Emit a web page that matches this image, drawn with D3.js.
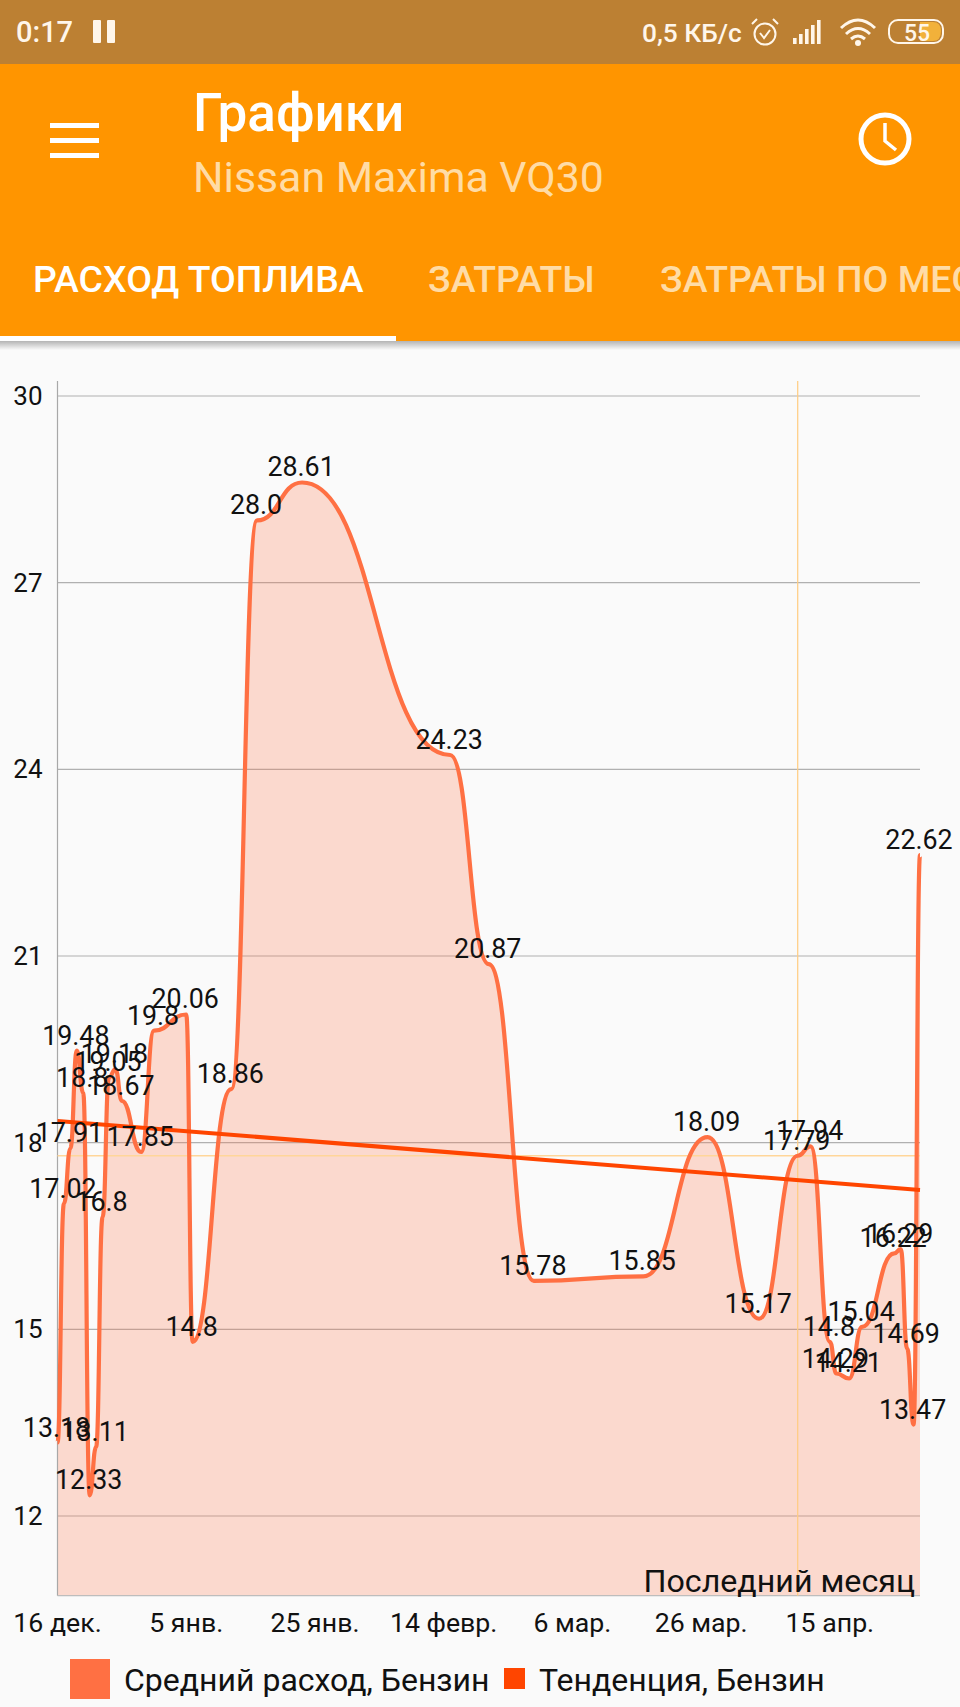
<!DOCTYPE html>
<html><head><meta charset="utf-8">
<script src="https://cdn.jsdelivr.net/npm/d3@7"></script>
<style>html,body{margin:0;padding:0;background:#fafafa}svg{display:block}text{font-family:Roboto,sans-serif}</style>
</head><body><svg id="c" width="960" height="1707"></svg>
<script>
const dates=["2018-12-16","2018-12-17","2018-12-18","2018-12-19","2018-12-20","2018-12-21","2018-12-22","2018-12-23","2018-12-24","2018-12-25","2018-12-26","2018-12-29","2018-12-31","2019-01-05","2019-01-06","2019-01-12","2019-01-16","2019-01-23","2019-02-15","2019-02-21","2019-02-28","2019-03-17","2019-03-27","2019-04-04","2019-04-10","2019-04-12","2019-04-15","2019-04-16","2019-04-18","2019-04-20","2019-04-25","2019-04-26","2019-04-27","2019-04-28","2019-04-29"];
const fuel=[13.18,17.02,17.91,19.48,18.8,12.33,13.11,16.8,19.05,19.18,18.67,17.85,19.8,20.06,14.8,18.86,28.0,28.61,24.23,20.87,15.78,15.85,18.09,15.17,17.79,17.94,14.8,14.29,14.21,15.04,16.22,16.29,14.69,13.47,22.62];
const trendValues=[18.35,17.24];
const yTicks=[12,15,18,21,24,27,30];
const xTickDates=["2018-12-16","2019-01-05","2019-01-25","2019-02-14","2019-03-06","2019-03-26","2019-04-15"];
const xTickLabels=["16 дек.","5 янв.","25 янв.","14 февр.","6 мар.","26 мар.","15 апр."];
const legendLabels=["Средний расход, Бензин","Тенденция, Бензин"];
const selectedIndex=24;
const tabs=["РАСХОД ТОПЛИВА","ЗАТРАТЫ","ЗАТРАТЫ ПО МЕСЯЦАМ"];

const svg=d3.select("#c");
const parse=d3.utcParse("%Y-%m-%d");
const x=d3.scaleUtc().domain([parse(dates[0]),parse(dates[dates.length-1])]).range([57.5,920]);
const y=d3.scaleLinear().domain([12,30]).range([1516,396]);
const bottomY=y(10.72), topY=y(30.24);
const pts=dates.map((d,i)=>({d:parse(d),v:fuel[i]}));
const curve=d3.curveBumpX;

// chart
const g=svg.append("g");
g.append("g").selectAll("line").data(yTicks).join("line")
 .attr("x1",x.range()[0]).attr("x2",x.range()[1]).attr("y1",d=>y(d)).attr("y2",d=>y(d))
 .attr("stroke","#b0b0b0").attr("stroke-width",1.2);
g.append("path").datum(pts).attr("fill","#ff7043").attr("fill-opacity",.24)
 .attr("d",d3.area().x(d=>x(d.d)).y0(bottomY).y1(d=>y(d.v)).curve(curve));
g.append("line").attr("x1",x.range()[0]).attr("x2",x.range()[0]).attr("y1",topY).attr("y2",bottomY).attr("stroke","#a8a8a8").attr("stroke-width",1.2);
g.append("line").attr("x1",x.range()[0]).attr("x2",x.range()[1]).attr("y1",bottomY).attr("y2",bottomY).attr("stroke","#bdbdbd").attr("stroke-width",1.2);
// crosshair
const sel=pts[selectedIndex];
g.append("line").attr("x1",x(sel.d)).attr("x2",x(sel.d)).attr("y1",topY).attr("y2",bottomY).attr("stroke","#ffcc80").attr("stroke-width",1.2);
g.append("line").attr("x1",x.range()[0]).attr("x2",x.range()[1]).attr("y1",y(sel.v)).attr("y2",y(sel.v)).attr("stroke","#ffd699").attr("stroke-width",1.5);
g.append("path").datum(pts).attr("fill","none").attr("stroke","#ff7043").attr("stroke-width",4.2)
 .attr("d",d3.line().x(d=>x(d.d)).y(d=>y(d.v)).curve(curve));
g.append("line").attr("x1",x.range()[0]).attr("x2",x.range()[1])
 .attr("y1",y(trendValues[0])).attr("y2",y(trendValues[1])).attr("stroke","#ff4500").attr("stroke-width",4);
// point labels
g.append("g").selectAll("text").data(pts).join("text")
 .attr("x",d=>x(d.d)-1).attr("y",d=>y(d.v)-6).attr("text-anchor","middle")
 .attr("font-size",26.8).attr("fill","#111").text(d=>String(d.v===28?"28.0":d.v));
// axes labels
g.append("g").selectAll("text").data(yTicks).join("text")
 .attr("x",42.5).attr("y",d=>y(d)+9).attr("text-anchor","end").attr("font-size",26).attr("fill","#111").text(d=>d);
g.append("g").selectAll("text").data(xTickDates).join("text")
 .attr("x",d=>x(parse(d))).attr("y",1632).attr("text-anchor","middle").attr("font-size",26.7).attr("fill","#111")
 .text((d,i)=>xTickLabels[i]);
g.append("text").attr("x",915).attr("y",1592).attr("text-anchor","end").attr("font-size",32.2).attr("fill","#111").text("Последний месяц");
// legend
g.append("rect").attr("x",70).attr("y",1659).attr("width",40).attr("height",40).attr("fill","#ff7043");
g.append("text").attr("x",124).attr("y",1691).attr("font-size",32).attr("fill","#111").text(legendLabels[0]);
g.append("rect").attr("x",504).attr("y",1668).attr("width",21).attr("height",21).attr("fill","#ff4500");
g.append("text").attr("x",539).attr("y",1691).attr("font-size",32).attr("fill","#111").text(legendLabels[1]);

// app chrome
const defs=svg.append("defs");
const gr=defs.append("linearGradient").attr("id","sh").attr("x1",0).attr("x2",0).attr("y1",0).attr("y2",1);
gr.append("stop").attr("offset",0).attr("stop-color","#000").attr("stop-opacity",.28);
gr.append("stop").attr("offset",1).attr("stop-color","#000").attr("stop-opacity",0);
const ch=svg.append("g");
ch.append("rect").attr("x",0).attr("y",341).attr("width",960).attr("height",9).attr("fill","url(#sh)");
ch.append("rect").attr("width",960).attr("height",64).attr("fill","#bc8033");
ch.append("rect").attr("y",64).attr("width",960).attr("height",277).attr("fill","#ff9500");
ch.append("rect").attr("y",336).attr("width",396).attr("height",5).attr("fill","#fff");
[123,138,153].forEach(yy=>ch.append("rect").attr("x",50).attr("y",yy).attr("width",49).attr("height",5).attr("fill","#fff"));
ch.append("text").attr("x",193).attr("y",131).attr("font-size",53).attr("font-weight",500).attr("fill","#fff").text("Графики");
ch.append("text").attr("x",193).attr("y",192).attr("font-size",42.8).attr("fill","#ffdca6").text("Nissan Maxima VQ30");
const tabX=[33,428,660], tabC=["#fff","#ffdca6","#ffdca6"];
tabs.forEach((t,i)=>ch.append("text").attr("x",tabX[i]).attr("y",292).attr("font-size",37.4).attr("font-weight",500).attr("fill",tabC[i]).text(t));
// clock
ch.append("circle").attr("cx",885).attr("cy",139).attr("r",24).attr("fill","none").attr("stroke","#fff").attr("stroke-width",5);
ch.append("path").attr("d","M885 123V141L896 150").attr("fill","none").attr("stroke","#fff").attr("stroke-width",3.5);
// status bar
const sc="#fff6ea";
ch.append("text").attr("x",16).attr("y",42).attr("font-size",29).attr("font-weight",500).attr("fill",sc).text("0:17");
ch.append("rect").attr("x",93).attr("y",20).attr("width",8).attr("height",23).attr("rx",1).attr("fill",sc);
ch.append("rect").attr("x",107).attr("y",20).attr("width",8).attr("height",23).attr("rx",1).attr("fill",sc);
ch.append("text").attr("x",642).attr("y",42).attr("font-size",26.3).attr("font-weight",500).attr("fill",sc).text("0,5 КБ/с");
ch.append("circle").attr("cx",765).attr("cy",34).attr("r",10.5).attr("fill","none").attr("stroke",sc).attr("stroke-width",2);
ch.append("path").attr("d","M760 33L764 38L770 30M752 24L757 19M778 24L773 19").attr("fill","none").attr("stroke",sc).attr("stroke-width",2);
[[793,38,6],[799,34,10],[805,29,15],[811,25,19],[817,20,24]].forEach(b=>ch.append("rect").attr("x",b[0]).attr("y",b[1]).attr("width",3.6).attr("height",b[2]).attr("fill",sc));
ch.append("path").attr("d","M841 28Q858 12 875 28M846 34Q858 23 870 34M851 39Q858 33 865 39").attr("fill","none").attr("stroke",sc).attr("stroke-width",3);
ch.append("circle").attr("cx",858).attr("cy",43).attr("r",3).attr("fill",sc);
ch.append("rect").attr("x",889).attr("y",20).attr("width",54).attr("height",23).attr("rx",9).attr("fill","none").attr("stroke",sc).attr("stroke-width",2);
ch.append("path").attr("d","M920 22H933Q941 22 941 31Q941 41 933 41H920Z").attr("fill","#f2b13a");
ch.append("text").attr("x",917).attr("y",41).attr("text-anchor","middle").attr("font-size",23).attr("font-weight",500).attr("fill",sc).text("55");
</script></body></html>
